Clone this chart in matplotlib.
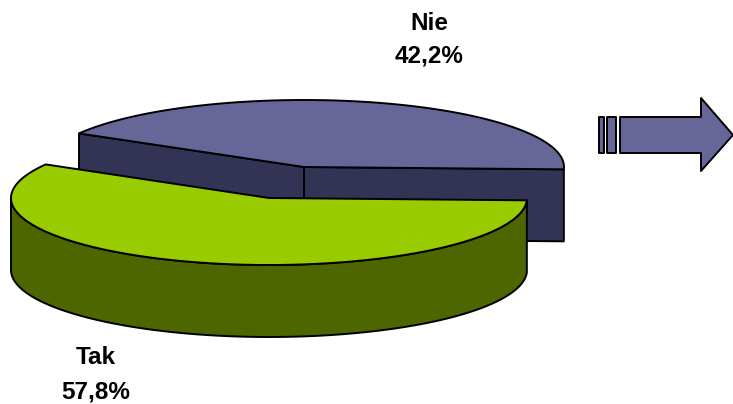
import numpy as np
import matplotlib
matplotlib.use('Agg')
import matplotlib.pyplot as plt

plt.rcParams['font.family'] = ['Liberation Sans', 'DejaVu Sans']

# pie shares
labels = ['Nie', 'Tak']
shares = [42.2, 57.8]
share_labels = ['42,2%', '57,8%']

# ellipse shape and exploded slice centres (pixels)
rx = 260
ry = 67
depth = 72
nie_center = (304, 167)
tak_center = (269, 198)
tak_rx = 258
start_angle = -2


def edge(center, a0, a1, radius=rx):
    t = np.radians(np.linspace(a0, a1, 200))
    return center[0] + radius * np.cos(t), center[1] - ry * np.sin(t)


nie_sweep = shares[0] * 3.6
tak_sweep = shares[1] * 3.6
nie_end = start_angle + nie_sweep
tak_end = nie_end + tak_sweep

fig = plt.figure(figsize=(7.33, 4.04), dpi=100)
ax = fig.add_axes([0, 0, 1, 1])
ax.set_xlim(0, 733)
ax.set_ylim(404, 0)
ax.axis('off')

line = dict(edgecolor='black', linewidth=1.4, joinstyle='round')

# blue slice: cut walls first, then the top
x, y = edge(nie_center, start_angle, nie_end)
cx, cy = nie_center
ax.fill([x[-1], cx, cx, x[-1]], [y[-1], cy, cy + depth, y[-1] + depth],
        facecolor='#333355', **line)
ax.fill([cx, x[0], x[0], cx], [cy, y[0], y[0] + depth, cy + depth],
        facecolor='#333355', **line)
ax.fill(np.r_[cx, x], np.r_[cy, y], facecolor='#666699', **line)

# green slice: outer wall only from the left extreme round the front, then the top
x, y = edge(tak_center, 180, tak_end, tak_rx)
cx, cy = tak_center
ax.fill(np.r_[x, x[::-1]], np.r_[y, y[::-1] + depth], facecolor='#4D6600', **line)
x, y = edge(tak_center, nie_end, tak_end, tak_rx)
ax.fill(np.r_[cx, x], np.r_[cy, y], facecolor='#99CC00', **line)

# arrow on the right
ax.fill([620, 701, 701, 733, 701, 701, 620], [117, 117, 98, 135, 171, 153, 153],
        facecolor='#666699', **line)
ax.fill([607, 616, 616, 607], [117, 117, 153, 153], facecolor='#666699', **line)
ax.fill([599, 604, 604, 599], [117, 117, 153, 153], facecolor='#666699', **line)

text_style = dict(ha='center', va='center', fontsize=17.5, fontweight='bold', color='black')
ax.text(429, 24, labels[0], **text_style)
ax.text(429, 56, share_labels[0], **text_style)
ax.text(96, 358, labels[1], **text_style)
ax.text(96, 392, share_labels[1], **text_style)

fig.savefig('out.png', dpi=100)
